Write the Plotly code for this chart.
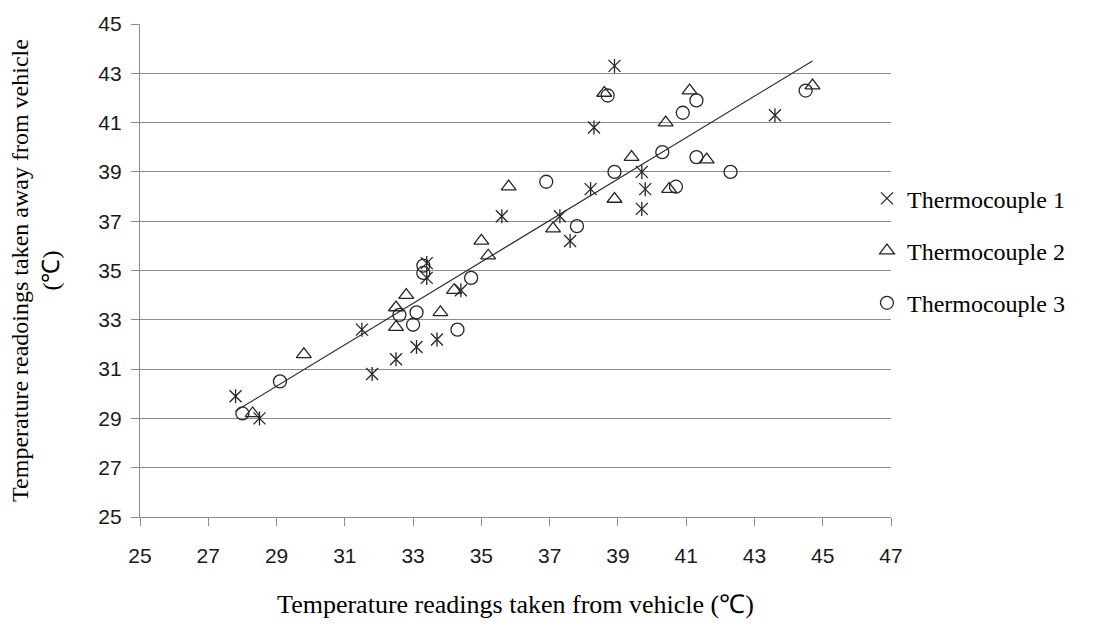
import plotly.graph_objects as go

# ---- data ----
t1_x = [38.9, 38.3, 43.6, 39.7, 39.8, 39.7, 38.2, 35.6, 37.3, 37.6, 33.4, 33.4, 34.4, 31.5, 33.7, 33.1, 32.5, 31.8, 27.8, 28.5]
t1_y = [43.3, 40.8, 41.3, 39.0, 38.3, 37.5, 38.3, 37.2, 37.2, 36.2, 35.3, 34.7, 34.2, 32.6, 32.2, 31.9, 31.4, 30.8, 29.9, 29.0]

t2_x = [38.6, 41.1, 40.4, 44.7, 39.4, 41.6, 38.9, 35.8, 40.5, 37.1, 35.0, 35.2, 34.2, 32.8, 32.5, 32.5, 33.8, 29.8, 28.3]
t2_y = [42.2, 42.3, 41.0, 42.5, 39.6, 39.5, 37.9, 38.4, 38.3, 36.7, 36.2, 35.6, 34.2, 34.0, 33.5, 32.7, 33.3, 31.6, 29.2]

t3_x = [38.7, 41.3, 40.9, 44.5, 40.3, 41.3, 42.3, 38.9, 36.9, 40.7, 37.8, 33.3, 33.3, 34.7, 32.6, 33.1, 33.0, 34.3, 29.1, 28.0]
t3_y = [42.1, 41.9, 41.4, 42.3, 39.8, 39.6, 39.0, 39.0, 38.6, 38.4, 36.8, 35.2, 34.9, 34.7, 33.2, 33.3, 32.8, 32.6, 30.5, 29.2]

trend_x = [27.8, 44.7]
trend_y = [29.3, 43.5]

series_names = ["Thermocouple 1", "Thermocouple 2", "Thermocouple 3"]
tick_vals = [25, 27, 29, 31, 33, 35, 37, 39, 41, 43, 45, 47]

x_title = "Temperature readings taken from vehicle (℃)"
y_title = "Temperature readoings taken away from vehicle<br>(℃)"

MK = "#262626"
SERIF = "Liberation Serif, Times New Roman, serif"
SANS = "Liberation Sans Narrow, Arial Narrow, Liberation Sans, sans-serif"

fig = go.Figure()

# trend line
fig.add_trace(go.Scatter(x=trend_x, y=trend_y, mode="lines",
                         line=dict(color="#2b2b2b", width=1.2),
                         showlegend=False, hoverinfo="skip"))

# Thermocouple 1: X + vertical bar (star marker)
fig.add_trace(go.Scatter(x=t1_x, y=t1_y, mode="markers", name=series_names[0],
                         legendgroup="g1",
                         marker=dict(symbol="x-thin-open", size=12,
                                     line=dict(color=MK, width=1.3), color=MK)))
fig.add_trace(go.Scatter(x=t1_x, y=t1_y, mode="markers", name=series_names[0],
                         legendgroup="g1", showlegend=False,
                         marker=dict(symbol="line-ns-open", size=10,
                                     line=dict(color=MK, width=1.3), color=MK)))

fig.add_trace(go.Scatter(x=t2_x, y=t2_y, mode="markers", name=series_names[1],
                         legendgroup="g2",
                         marker=dict(symbol="triangle-up-open", size=13,
                                     line=dict(color=MK, width=1.3), color=MK)))

fig.add_trace(go.Scatter(x=t3_x, y=t3_y, mode="markers", name=series_names[2],
                         legendgroup="g3",
                         marker=dict(symbol="circle-open", size=13,
                                     line=dict(color=MK, width=1.3), color=MK)))

fig.update_layout(
    width=1104, height=626,
    margin=dict(l=140, r=213, t=23, b=108),
    paper_bgcolor="white", plot_bgcolor="white",
    legend=dict(x=0.968, xanchor="left", y=0.54, yanchor="middle",
                font=dict(family=SERIF, size=24, color="black"),
                tracegroupgap=18, bgcolor="rgba(0,0,0,0)",
                itemwidth=30),
)

fig.update_xaxes(
    range=[25, 47], tickvals=tick_vals, ticktext=[str(v) for v in tick_vals],
    showgrid=False, zeroline=False,
    showline=True, linecolor="#8c8c8c", linewidth=1.3,
    ticks="outside", ticklen=8, tickcolor="#8c8c8c", tickwidth=1.3,
    tickfont=dict(family=SANS, size=21, color="#1a1a1a"),
    ticklabelstandoff=12,
    title=dict(text=x_title, font=dict(family=SERIF, size=26, color="black"), standoff=28),
)

fig.update_yaxes(
    range=[25, 45], tickvals=[25, 27, 29, 31, 33, 35, 37, 39, 41, 43, 45],
    showgrid=True, gridcolor="#8c8c8c", gridwidth=1.3, zeroline=False,
    showline=True, linecolor="#8c8c8c", linewidth=1.3,
    ticks="outside", ticklen=8, tickcolor="#8c8c8c", tickwidth=1.3,
    tickfont=dict(family=SANS, size=21, color="#1a1a1a"),
    ticklabelstandoff=5,
    title=dict(text=y_title, font=dict(family=SERIF, size=24, color="black"), standoff=31),
)

fig.write_html("out.html")
